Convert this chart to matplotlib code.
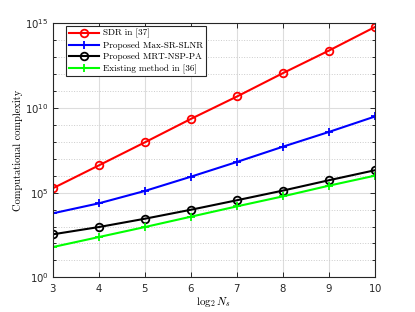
import matplotlib
matplotlib.use("Agg")
import matplotlib.pyplot as plt
import numpy as np
from matplotlib.ticker import FixedLocator, LogFormatterSciNotation, NullFormatter

x = [3, 4, 5, 6, 7, 8, 9, 10]
sdr_exp = [5.26, 6.61, 7.97, 9.35, 10.67, 12.05, 13.38, 14.77]
maxsr_exp = [3.78, 4.37, 5.10, 5.94, 6.81, 7.71, 8.58, 9.49]
mrt_exp = [2.54, 2.97, 3.46, 3.99, 4.55, 5.12, 5.73, 6.32]
exist_exp = [1.79, 2.38, 2.97, 3.58, 4.19, 4.78, 5.41, 6.00]
labels = ["SDR in [37]", "Proposed Max-SR-SLNR", "Proposed MRT-NSP-PA", "Existing method in [36]"]

plt.rcParams['font.family'] = ['DejaVu Sans']
plt.rcParams['axes.formatter.use_mathtext'] = True

fig = plt.figure(figsize=(4.15, 3.12), dpi=100)
ax = fig.add_axes([0.1277, 0.111, 0.7759, 0.815])

series = [
    (sdr_exp, 'red', 'o'),
    (maxsr_exp, 'blue', '+'),
    (mrt_exp, 'black', 'o'),
    (exist_exp, '#00ff00', '+'),
]
for (e, c, m), lab in zip(series, labels):
    y = 10 ** np.array(e)
    ax.plot(x, y, color=c, marker=m, lw=1.5, ms=5.5 if m == 'o' else 6,
            mfc='none', mew=1.3, label=lab)

ax.set_yscale('log')
ax.set_xlim(3, 10)
ax.set_ylim(1, 1e15)
ax.xaxis.set_major_locator(FixedLocator(x))
ax.yaxis.set_major_locator(FixedLocator([1, 1e5, 1e10, 1e15]))
ax.yaxis.set_minor_locator(FixedLocator([10.0 ** k for k in range(16) if k % 5 != 0]))
ax.yaxis.set_major_formatter(LogFormatterSciNotation())
ax.yaxis.set_minor_formatter(NullFormatter())

ax.grid(True, which='major', color='#dddddd', lw=0.8, ls='-')
ax.grid(True, which='minor', axis='y', color='#cccccc', lw=0.7, ls=':')
ax.set_axisbelow(True)

gc = '#262626'
for s in ax.spines.values():
    s.set_color(gc)
    s.set_linewidth(0.8)
ax.tick_params(which='both', direction='in', top=True, right=True, colors=gc,
               labelsize=7.3, length=3.5, width=0.7, pad=3)
ax.tick_params(which='minor', length=2)

ax.set_xlabel(r'$\log_2 N_s$', fontsize=8, math_fontfamily='cm', labelpad=1)
ax.set_ylabel('Computational complexity', family='cmr10', fontsize=7.5, labelpad=1.5)

leg = ax.legend(loc='upper left', bbox_to_anchor=(0.04, 0.987),
                prop={'family': 'cmr10', 'size': 6.6},
                frameon=True, fancybox=False, edgecolor=gc, framealpha=1,
                borderaxespad=0.0, handlelength=3.3, handletextpad=0.5,
                borderpad=0.3, labelspacing=0.33)
leg.get_frame().set_linewidth(0.8)

fig.savefig('out.png', dpi=100)
